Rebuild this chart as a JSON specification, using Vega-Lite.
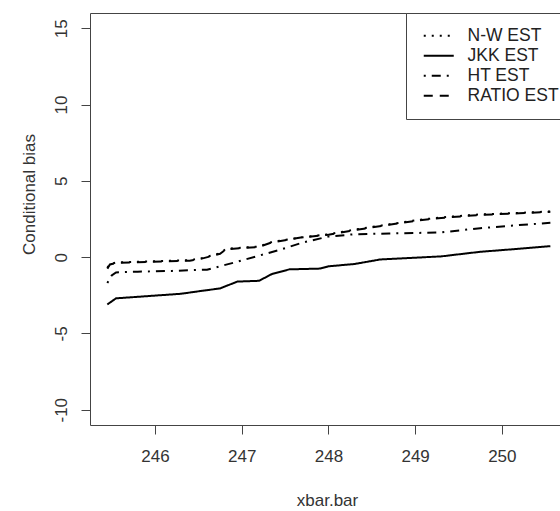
{
  "$schema": "https://vega.github.io/schema/vega-lite/v6.json",
  "autosize": {"type": "none"},
  "padding": {"left": 90, "top": 13, "right": 0, "bottom": 86},
  "width": 470,
  "height": 412,
  "background": "white",
  "config": {
    "view": {"stroke": "#444", "strokeWidth": 1},
    "font": "Liberation Sans"
  },
  "data": {
    "values": [
      {"x": 245.45, "y": -0.75, "s": "RATIO EST"},
      {"x": 245.48, "y": -0.48, "s": "RATIO EST"},
      {"x": 245.55, "y": -0.38, "s": "RATIO EST"},
      {"x": 245.8, "y": -0.33, "s": "RATIO EST"},
      {"x": 246.1, "y": -0.28, "s": "RATIO EST"},
      {"x": 246.4, "y": -0.23, "s": "RATIO EST"},
      {"x": 246.55, "y": -0.08, "s": "RATIO EST"},
      {"x": 246.75, "y": 0.22, "s": "RATIO EST"},
      {"x": 246.82, "y": 0.52, "s": "RATIO EST"},
      {"x": 247.2, "y": 0.67, "s": "RATIO EST"},
      {"x": 247.35, "y": 0.97, "s": "RATIO EST"},
      {"x": 247.7, "y": 1.3, "s": "RATIO EST"},
      {"x": 248.0, "y": 1.47, "s": "RATIO EST"},
      {"x": 248.3, "y": 1.77, "s": "RATIO EST"},
      {"x": 248.7, "y": 2.12, "s": "RATIO EST"},
      {"x": 249.05, "y": 2.42, "s": "RATIO EST"},
      {"x": 249.3, "y": 2.57, "s": "RATIO EST"},
      {"x": 249.75, "y": 2.77, "s": "RATIO EST"},
      {"x": 250.2, "y": 2.87, "s": "RATIO EST"},
      {"x": 250.56, "y": 2.97, "s": "RATIO EST"},
      {"x": 245.45, "y": -0.7, "s": "N-W EST"},
      {"x": 245.48, "y": -0.45, "s": "N-W EST"},
      {"x": 245.55, "y": -0.35, "s": "N-W EST"},
      {"x": 245.8, "y": -0.3, "s": "N-W EST"},
      {"x": 246.1, "y": -0.25, "s": "N-W EST"},
      {"x": 246.4, "y": -0.2, "s": "N-W EST"},
      {"x": 246.55, "y": -0.05, "s": "N-W EST"},
      {"x": 246.75, "y": 0.25, "s": "N-W EST"},
      {"x": 246.82, "y": 0.55, "s": "N-W EST"},
      {"x": 247.2, "y": 0.7, "s": "N-W EST"},
      {"x": 247.35, "y": 1.0, "s": "N-W EST"},
      {"x": 247.7, "y": 1.3, "s": "N-W EST"},
      {"x": 248.0, "y": 1.5, "s": "N-W EST"},
      {"x": 248.3, "y": 1.8, "s": "N-W EST"},
      {"x": 248.7, "y": 2.15, "s": "N-W EST"},
      {"x": 249.05, "y": 2.45, "s": "N-W EST"},
      {"x": 249.3, "y": 2.6, "s": "N-W EST"},
      {"x": 249.75, "y": 2.8, "s": "N-W EST"},
      {"x": 250.2, "y": 2.9, "s": "N-W EST"},
      {"x": 250.56, "y": 3.0, "s": "N-W EST"},
      {"x": 245.45, "y": -3.1, "s": "JKK EST"},
      {"x": 245.55, "y": -2.7, "s": "JKK EST"},
      {"x": 245.8, "y": -2.6, "s": "JKK EST"},
      {"x": 246.3, "y": -2.4, "s": "JKK EST"},
      {"x": 246.55, "y": -2.2, "s": "JKK EST"},
      {"x": 246.75, "y": -2.05, "s": "JKK EST"},
      {"x": 246.95, "y": -1.6, "s": "JKK EST"},
      {"x": 247.2, "y": -1.55, "s": "JKK EST"},
      {"x": 247.35, "y": -1.1, "s": "JKK EST"},
      {"x": 247.55, "y": -0.8, "s": "JKK EST"},
      {"x": 247.9, "y": -0.75, "s": "JKK EST"},
      {"x": 248.0, "y": -0.6, "s": "JKK EST"},
      {"x": 248.3, "y": -0.45, "s": "JKK EST"},
      {"x": 248.6, "y": -0.15, "s": "JKK EST"},
      {"x": 249.3, "y": 0.05, "s": "JKK EST"},
      {"x": 249.75, "y": 0.35, "s": "JKK EST"},
      {"x": 250.2, "y": 0.55, "s": "JKK EST"},
      {"x": 250.56, "y": 0.72, "s": "JKK EST"},
      {"x": 245.45, "y": -1.7, "s": "HT EST"},
      {"x": 245.5, "y": -1.2, "s": "HT EST"},
      {"x": 245.55, "y": -1.0, "s": "HT EST"},
      {"x": 245.8, "y": -0.95, "s": "HT EST"},
      {"x": 246.2, "y": -0.9, "s": "HT EST"},
      {"x": 246.6, "y": -0.82, "s": "HT EST"},
      {"x": 246.95, "y": -0.3, "s": "HT EST"},
      {"x": 247.2, "y": 0.1, "s": "HT EST"},
      {"x": 247.45, "y": 0.5, "s": "HT EST"},
      {"x": 247.7, "y": 0.95, "s": "HT EST"},
      {"x": 248.0, "y": 1.35, "s": "HT EST"},
      {"x": 248.3, "y": 1.5, "s": "HT EST"},
      {"x": 248.7, "y": 1.55, "s": "HT EST"},
      {"x": 249.3, "y": 1.62, "s": "HT EST"},
      {"x": 249.75, "y": 1.9, "s": "HT EST"},
      {"x": 250.2, "y": 2.1, "s": "HT EST"},
      {"x": 250.56, "y": 2.25, "s": "HT EST"}
    ]
  },
  "mark": {"type": "line", "color": "black", "strokeWidth": 2, "clip": true},
  "encoding": {
    "x": {
      "field": "x", "type": "quantitative",
      "scale": {"domain": [245.25, 250.671], "nice": false, "zero": false},
      "axis": {
        "title": "xbar.bar", "values": [246, 247, 248, 249, 250],
        "grid": false, "domain": false, "tickSize": 9, "tickColor": "#444",
        "labelFontSize": 17, "labelColor": "#333", "labelPadding": 14,
        "labelFont": "Liberation Sans",
        "titleFontSize": 17, "titleFontWeight": "normal", "titleColor": "#333",
        "titleFont": "Liberation Sans",
        "titleBaseline": "middle", "titleY": 75, "titleX": 237
      }
    },
    "y": {
      "field": "y", "type": "quantitative",
      "scale": {"domain": [-11, 16], "nice": false, "zero": false},
      "axis": {
        "title": "Conditional bias", "values": [-10, -5, 0, 5, 10, 15],
        "labelExpr": "'' + datum.value",
        "grid": false, "domain": false, "tickSize": 9, "tickColor": "#444",
        "labelAngle": -90, "labelAlign": "center", "labelBaseline": "middle",
        "labelFontSize": 17, "labelColor": "#333", "labelPadding": 20,
        "labelFont": "Liberation Sans",
        "titleFontSize": 17, "titleFontWeight": "normal", "titleColor": "#333",
        "titleFont": "Liberation Sans",
        "titleAngle": -90, "titleBaseline": "middle", "titleAlign": "center",
        "titleX": -61, "titleY": 181
      }
    },
    "strokeDash": {
      "field": "s", "type": "nominal",
      "scale": {
        "domain": ["N-W EST", "JKK EST", "HT EST", "RATIO EST"],
        "range": [[2, 6], [1, 0], [2, 6, 9, 6], [9, 7]]
      },
      "legend": {
        "title": null, "orient": "none", "legendX": 316, "legendY": 0,
        "strokeColor": "#444", "fillColor": "white", "cornerRadius": 0,
        "padding": 14, "symbolType": "M-2,0L2,0", "symbolSize": 225,
        "symbolOffset": 10, "symbolFillColor": "transparent",
        "symbolStrokeWidth": 2, "symbolStrokeColor": "black",
        "labelFontSize": 17.5, "labelFont": "Liberation Sans", "labelColor": "#222",
        "labelOffset": 20, "rowPadding": 1, "labelLimit": 200
      }
    }
  }
}
